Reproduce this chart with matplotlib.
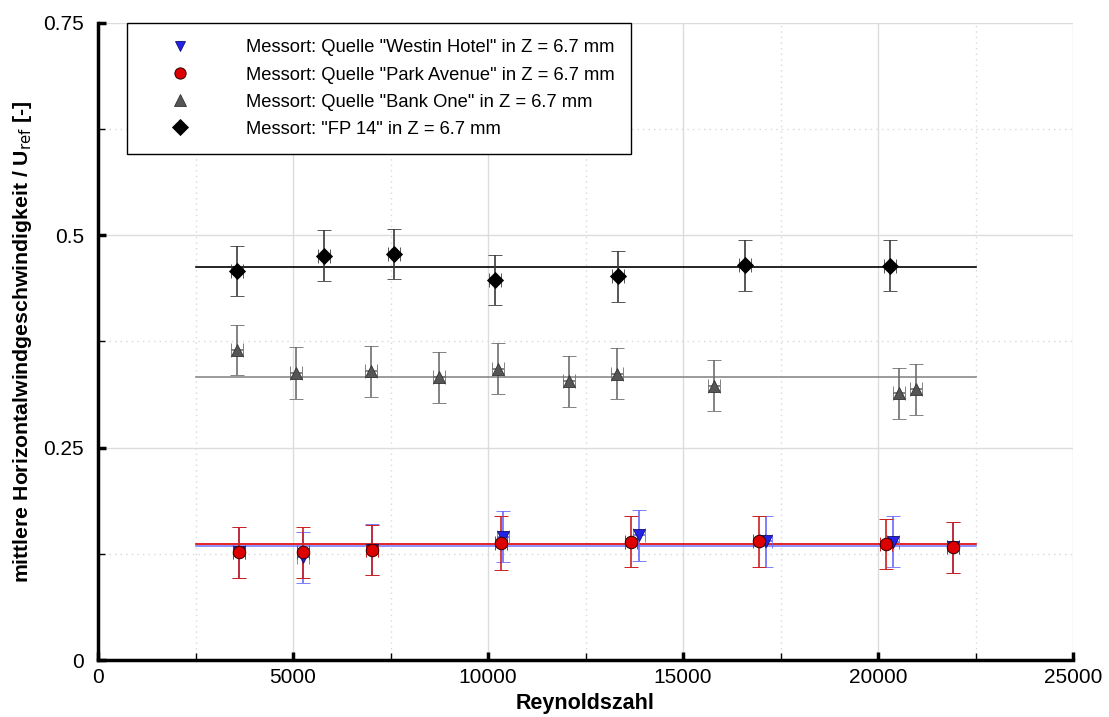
import matplotlib
matplotlib.use("Agg")
import matplotlib.pyplot as plt
from matplotlib.ticker import MultipleLocator

plt.rcParams['font.family'] = ['Liberation Sans', 'DejaVu Sans']

# Westin Hotel (blue, down triangles)
westin_re = [3615, 5256, 7026, 10385, 13872, 17128, 20385, 21923]
westin_u = [0.127, 0.121, 0.130, 0.145, 0.147, 0.140, 0.139, 0.133]
westin_err = [0.030, 0.030, 0.030, 0.030, 0.030, 0.030, 0.030, 0.030]
westin_mean = 0.1342

# Park Avenue (red circles)
park_re = [3615, 5256, 7026, 10333, 13667, 16949, 20205, 21923]
park_u = [0.127, 0.127, 0.1295, 0.1378, 0.139, 0.140, 0.1366, 0.133]
park_err = [0.030, 0.030, 0.030, 0.032, 0.030, 0.030, 0.030, 0.030]
park_mean = 0.1366

# Bank One (grey triangles)
bank_re = [3564, 5077, 7000, 8744, 10256, 12077, 13308, 15795, 20538, 20974]
bank_u = [0.365, 0.338, 0.340, 0.333, 0.343, 0.328, 0.337, 0.323, 0.314, 0.319]
bank_err = [0.030, 0.031, 0.030, 0.030, 0.030, 0.030, 0.030, 0.030, 0.030, 0.030]
bank_mean = 0.333

# FP 14 (black diamonds)
fp_re = [3564, 5795, 7590, 10180, 13333, 16590, 20308]
fp_u = [0.458, 0.4757, 0.478, 0.4474, 0.452, 0.465, 0.464]
fp_err = [0.030, 0.030, 0.030, 0.030, 0.030, 0.030, 0.030]
fp_mean = 0.4627

re_err = 150
mean_range = [2500, 22500]

labels = ['Messort: Quelle "Westin Hotel" in Z = 6.7 mm',
          'Messort: Quelle "Park Avenue" in Z = 6.7 mm',
          'Messort: Quelle "Bank One" in Z = 6.7 mm',
          'Messort: "FP 14" in Z = 6.7 mm']

fig = plt.figure(figsize=(11.09, 7.17), dpi=100)
ax = fig.add_axes([98/1109, 57/717, 975/1109, 637/717])

# grid
ax.set_xlim(0, 25000)
ax.set_ylim(0, 0.75)
ax.xaxis.set_major_locator(MultipleLocator(5000))
ax.xaxis.set_minor_locator(MultipleLocator(2500))
ax.yaxis.set_major_locator(MultipleLocator(0.25))
ax.yaxis.set_minor_locator(MultipleLocator(0.125))
ax.grid(which='major', color='#dcdcdc', lw=1.0, ls='-')
ax.grid(which='minor', color='#d8d8d8', lw=1.0, ls=(0, (1, 3)))
ax.set_axisbelow(True)

# mean lines
ax.plot(mean_range, [fp_mean]*2, color='black', lw=1.2, zorder=2)
ax.plot(mean_range, [bank_mean]*2, color='#8a8a8a', lw=1.2, zorder=2)
ax.plot(mean_range, [westin_mean]*2, color='#7a7aff', lw=1.2, zorder=2)
ax.plot(mean_range, [park_mean]*2, color='#dd0000', lw=1.2, zorder=2)

ekw = dict(capsize=5, elinewidth=1.2, capthick=1.2, ls='none', zorder=3)

h1 = ax.errorbar(westin_re, westin_u, yerr=westin_err, xerr=re_err, fmt='v',
                 ms=8, mfc='#2323e8', mec='#10106a', mew=0.6, ecolor='#6a6aff', **ekw)
h2 = ax.errorbar(park_re, park_u, yerr=park_err, xerr=re_err, fmt='o',
                 ms=9, mfc='#dd0000', mec='#300000', mew=0.7, ecolor='#cc2020', **ekw)
h3 = ax.errorbar(bank_re, bank_u, yerr=bank_err, xerr=re_err, fmt='^',
                 ms=9, mfc='#555555', mec='#333333', mew=0.6, ecolor='#6e6e6e', **ekw)
h4 = ax.errorbar(fp_re, fp_u, yerr=fp_err, xerr=re_err, fmt='D',
                 ms=8.5, mfc='black', mec='black', mew=0.6, ecolor='#3a3a3a', **ekw)

# spines and ticks
for s in ['top', 'right']:
    ax.spines[s].set_visible(False)
for s in ['left', 'bottom']:
    ax.spines[s].set_linewidth(2.5)
ax.tick_params(which='major', direction='in', length=6, width=2.5, labelsize=15)
ax.tick_params(which='minor', direction='in', length=5, width=1)
ax.tick_params(axis='x', which='major', pad=6)
ax.tick_params(axis='y', which='major', pad=10)
ax.set_xticks([0, 5000, 10000, 15000, 20000, 25000])
ax.set_xticklabels(['0', '5000', '10000', '15000', '20000', '25000'])
ax.set_yticks([0, 0.25, 0.5, 0.75])
ax.set_yticklabels(['0', '0.25', '0.5', '0.75'])

ax.set_xlabel('Reynoldszahl', fontsize=15.5, fontweight='bold', labelpad=4)
ax.set_ylabel(r'mittlere Horizontalwindgeschwindigkeit / U$_{\mathrm{ref}}$ [-]',
              fontsize=15.3, fontweight='bold', labelpad=7)

leg = ax.legend([h1[0], h2[0], h3[0], h4[0]], labels, loc='upper left',
                bbox_to_anchor=(29/975, 1.0), borderaxespad=0, fontsize=13.2,
                fancybox=False, frameon=True, edgecolor='black', framealpha=1,
                handlelength=4.0, handletextpad=1.6, borderpad=0.9,
                labelspacing=0.55, markerscale=0.9)
leg.get_frame().set_linewidth(1.0)
leg.set_zorder(5)

fig.savefig('out.png', dpi=100)
